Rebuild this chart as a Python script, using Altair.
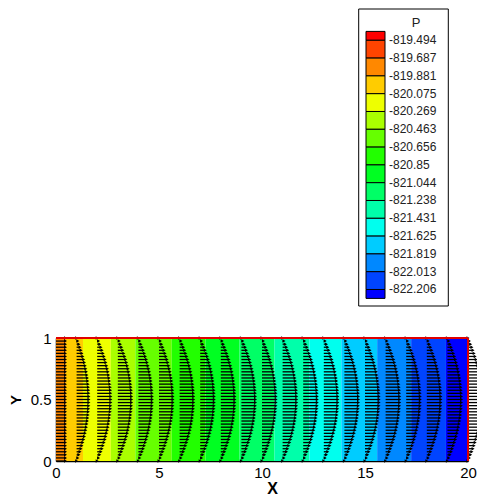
import altair as alt
import pandas as pd

# ---------------- data ----------------
# legend contour levels of P (top to bottom)
level_labels = ["-819.494", "-819.687", "-819.881", "-820.075", "-820.269",
                "-820.463", "-820.656", "-820.85", "-821.044", "-821.238",
                "-821.431", "-821.625", "-821.819", "-822.013", "-822.206"]
# 16 legend colours (band above level 1 ... band below level 15)
band_colors = ["#ff0000", "#ff4400", "#ff8800", "#ffcc00", "#eeff00", "#aaff00",
               "#66ff00", "#22ff00", "#00ff22", "#00ff66", "#00ffaa", "#00ffee",
               "#00ccff", "#0088ff", "#0044ff", "#0000ff"]

# contour bands along the channel: x edges and legend band of each interval
band_edges = [0.0, 0.48, 1.31, 2.66, 3.85, 5.62, 7.26, 8.91, 10.6, 12.3,
              13.85, 15.59, 17.24, 18.93, 20.0]
band_index = [2, 3, 4, 5, 6, 7, 8, 9, 10, 11, 12, 13, 14, 15]

# velocity-vector stations (x) and centre-line velocity at each station
stations = [0, 1, 2, 3, 4, 5, 6, 7, 8, 9, 10, 11, 12, 13, 14, 15, 16, 17, 18, 19, 20]
u_center = [1.00, 1.30, 1.44, 1.46, 1.47, 1.48, 1.49, 1.49, 1.49, 1.49, 1.49,
            1.49, 1.49, 1.49, 1.49, 1.49, 1.49, 1.49, 1.49, 1.49, 1.49]
# mesh rows in y and the normalised velocity profile downstream of the inlet
y_rows = [0.0, 0.025, 0.05, 0.075, 0.1, 0.125, 0.15, 0.175, 0.2, 0.225, 0.25,
          0.275, 0.3, 0.325, 0.35, 0.375, 0.4, 0.425, 0.45, 0.475, 0.5,
          0.525, 0.55, 0.575, 0.6, 0.625, 0.65, 0.675, 0.7, 0.725, 0.75,
          0.775, 0.8, 0.825, 0.85, 0.875, 0.9, 0.925, 0.95, 0.975, 1.0]
profile = [0.0, 0.10, 0.19, 0.28, 0.36, 0.44, 0.51, 0.58, 0.64, 0.70, 0.75,
           0.80, 0.84, 0.88, 0.91, 0.94, 0.96, 0.98, 0.99, 1.0, 1.0,
           1.0, 0.99, 0.98, 0.96, 0.94, 0.91, 0.88, 0.84, 0.80, 0.75,
           0.70, 0.64, 0.58, 0.51, 0.44, 0.36, 0.28, 0.19, 0.10, 0.0]

VEC_SCALE = 0.46   # x-units of arrow length per unit velocity
FONT = "Liberation Sans"

# ---------------- tables ----------------
bands = pd.DataFrame({
    "x0": band_edges[:-1], "x1": band_edges[1:],
    "y0": 0.0, "y1": 1.0,
    "band": [str(b) for b in band_index],
})

rows = []
for s, xs in enumerate(stations):
    for j, y in enumerate(y_rows):
        u = u_center[s] if xs == 0 else u_center[s] * profile[j]
        rows.append({"xs": xs, "xe": xs + VEC_SCALE * u, "y": y})
vecs = pd.DataFrame(rows)

edges = pd.DataFrame({"x0": [0.0, 20.0], "x1": [20.0, 20.0],
                      "y0": [1.0, 0.0], "y1": [1.0, 1.0]})

color_scale = alt.Scale(domain=[str(i) for i in range(16)], range=band_colors)

xsc = alt.Scale(domain=[0, 20], nice=False, zero=False)
ysc = alt.Scale(domain=[0, 1], nice=False)

base = alt.Chart(bands)
band_layer = base.mark_rect().encode(
    x=alt.X("x0:Q", scale=xsc,
            axis=alt.Axis(values=[0, 5, 10, 15, 20], format="d", title="X",
                          titleFontSize=16, titleFontWeight="bold", labelFlush=False,
                          labelPadding=4, titlePadding=0, titleX=216)),
    x2="x1:Q",
    y=alt.Y("y0:Q", scale=ysc,
            axis=alt.Axis(values=[0, 0.5, 1], format="~g", title="Y",
                          titleFontSize=15, titleFontWeight="bold", labelFlush=False,
                          labelPadding=5, titlePadding=7)),
    y2="y1:Q",
    color=alt.Color("band:N", scale=color_scale, legend=None),
)

shafts = alt.Chart(vecs).mark_rule(color="black", strokeWidth=1.3, clip=False).encode(
    x=alt.X("xs:Q", scale=xsc), x2="xe:Q", y=alt.Y("y:Q", scale=ysc))
heads = alt.Chart(vecs).mark_point(shape="triangle-right", filled=True, size=12,
                                   color="black", opacity=1, clip=False).encode(
    x=alt.X("xe:Q", scale=xsc), y=alt.Y("y:Q", scale=ysc))
walls = alt.Chart(edges).mark_rule(color="#e00000", strokeWidth=2).encode(
    x=alt.X("x0:Q", scale=xsc), x2="x1:Q",
    y=alt.Y("y0:Q", scale=ysc), y2="y1:Q")

main = alt.layer(band_layer, shafts, heads, walls).properties(width=412, height=123)

# ---------------- legend panel ----------------
leg_boxes = pd.DataFrame({
    "band": [str(k) for k in range(16)],
    "i0": [-0.5] + [k - 1 for k in range(1, 15)] + [14],
    "i1": [0] + [k for k in range(1, 15)] + [14.5],
})
leg_text = pd.DataFrame({"i": list(range(15)), "label": level_labels})
leg_title = pd.DataFrame({"i": [-0.97], "label": ["P"]})
leg_frame = pd.DataFrame({"i0": [-1.758], "i1": [14.927]})

lsc = alt.Scale(domain=[-1.758, 14.927], reverse=True, nice=False, zero=False)

frame = alt.Chart(leg_frame).mark_rect(fill="white", stroke="black", strokeWidth=1).encode(
    x=alt.value(302.7), x2=alt.value(392.3),
    y=alt.Y("i0:Q", scale=lsc, axis=None), y2="i1:Q")
boxes = alt.Chart(leg_boxes).mark_rect(stroke="black", strokeWidth=1).encode(
    x=alt.value(310), x2=alt.value(329),
    y=alt.Y("i0:Q", scale=lsc, axis=None), y2="i1:Q",
    color=alt.Color("band:N", scale=color_scale, legend=None))
labels = alt.Chart(leg_text).mark_text(align="left", baseline="middle", font=FONT,
                                       fontSize=12, color="#222").encode(
    x=alt.value(333), y=alt.Y("i:Q", scale=lsc, axis=None), text="label:N")
ptitle = alt.Chart(leg_title).mark_text(align="center", baseline="middle", font=FONT,
                                        fontSize=13, color="#222").encode(
    x=alt.value(360), y=alt.Y("i:Q", scale=lsc, axis=None), text="label:N")

legend = alt.layer(frame, boxes, labels, ptitle).properties(width=412, height=297)

chart = alt.vconcat(legend, main, spacing=32, bounds="flush").properties(
    padding={"left": 0, "top": 0, "right": -7, "bottom": 0}
).configure_view(stroke=None).configure_axis(
    domainColor="black", domainWidth=1.5, ticks=False, grid=False,
    labelFont=FONT, labelFontSize=15, labelColor="black",
    titleFont=FONT, titleColor="black",
)

chart.save("out.html", embed_options={"renderer": "svg", "actions": False})
